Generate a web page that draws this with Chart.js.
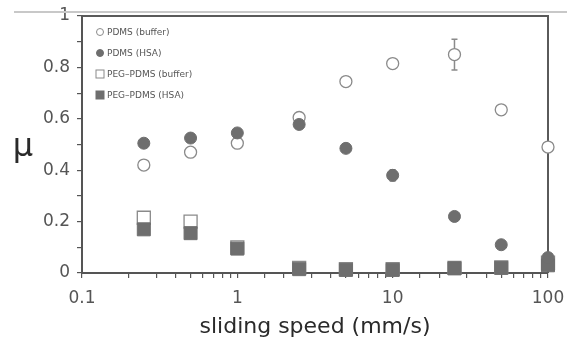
<!DOCTYPE html>
<html>
<head>
<meta charset="utf-8">
<script src="https://cdn.jsdelivr.net/npm/chart.js@4/dist/chart.umd.min.js"></script>
<style>
  html, body { margin: 0; padding: 0; background: #fff; }
  #wrap { width: 567px; height: 343px; }
</style>
</head>
<body>
<div id="wrap"><canvas id="chartMu" width="567" height="343"></canvas></div>
<script>
// sliding speeds (mm/s)
var speeds = [0.25, 0.5, 1, 2.5, 5, 10, 25, 50, 100];

// friction coefficient per series
var pdmsBuffer = [0.42, 0.47, 0.505, 0.605, 0.745, 0.815, 0.85, 0.635, 0.49];
var pdmsHSA = [0.505, 0.525, 0.545, 0.578, 0.485, 0.38, 0.22, 0.11, 0.06];
var pegBuffer = [0.215, 0.20, 0.10, 0.02, 0.015, 0.015, 0.02, 0.022, 0.04];
var pegHSA = [0.17, 0.155, 0.095, 0.015, 0.012, 0.012, 0.018, 0.02, 0.03];

// error bars (half width), 0 = none drawn
var pdmsBufferErr = [0, 0, 0, 0, 0, 0, 0.06, 0, 0];
var pdmsHSAErr = [0, 0, 0, 0, 0, 0.022, 0, 0, 0];

var seriesNames = ['PDMS (buffer)', 'PDMS (HSA)', 'PEG\u2013PDMS (buffer)', 'PEG\u2013PDMS (HSA)'];
var yTicks = [0, 0.2, 0.4, 0.6, 0.8, 1];

var ctx = document.getElementById('chartMu').getContext('2d');

function toPoints(vals) {
    return speeds.map(function (s, i) { return { x: s, y: vals[i] }; });
}

var gray = '#6e6e6e';
var lineGray = '#8a8a8a';

// error bars, top/right frame, legend, and axis labels
var decor = {
    id: 'decor',
    beforeDraw: function (chart) {
        // top and right frame, under the points
        var c = chart.ctx;
        var a = chart.chartArea;
        c.save();
        c.strokeStyle = '#5a5a5a';
        c.lineWidth = 2;
        c.beginPath();
        c.moveTo(a.left, a.top); c.lineTo(a.right, a.top); c.lineTo(a.right, a.bottom);
        c.stroke();
        c.restore();
    },
    beforeDatasetsDraw: function (chart) {
        var c = chart.ctx;
        var xs = chart.scales.x, ys = chart.scales.y;
        c.save();
        c.strokeStyle = lineGray;
        c.lineWidth = 1.5;
        [[pdmsBuffer, pdmsBufferErr], [pdmsHSA, pdmsHSAErr]].forEach(function (pair) {
            speeds.forEach(function (s, i) {
                var e = pair[1][i];
                if (!e) return;
                var px = xs.getPixelForValue(s);
                var y1 = ys.getPixelForValue(pair[0][i] + e);
                var y2 = ys.getPixelForValue(pair[0][i] - e);
                c.beginPath();
                c.moveTo(px, y1); c.lineTo(px, y2);
                c.moveTo(px - 3, y1); c.lineTo(px + 3, y1);
                c.moveTo(px - 3, y2); c.lineTo(px + 3, y2);
                c.stroke();
            });
        });
        c.restore();
    },
    afterDraw: function (chart) {
        var c = chart.ctx;
        c.save();
        // faint line along the top of the figure
        c.strokeStyle = '#c8c8c8';
        c.lineWidth = 2;
        c.beginPath();
        c.moveTo(14, 12); c.lineTo(567, 12);
        c.stroke();

        // legend
        c.font = '9px "DejaVu Sans"';
        c.textBaseline = 'middle';
        c.textAlign = 'left';
        var lx = 100, ly = 32, step = 21;
        seriesNames.forEach(function (name, i) {
            var y = ly + i * step;
            c.lineWidth = 1;
            if (i < 2) {
                c.beginPath();
                c.arc(lx, y, 3.5, 0, Math.PI * 2);
                c.fillStyle = i === 0 ? '#fff' : gray;
                c.fill();
                c.strokeStyle = i === 0 ? lineGray : gray;
                c.stroke();
            } else {
                c.fillStyle = i === 2 ? '#fff' : gray;
                c.fillRect(lx - 4, y - 4, 8, 8);
                c.strokeStyle = i === 2 ? lineGray : gray;
                c.strokeRect(lx - 4, y - 4, 8, 8);
            }
            c.fillStyle = '#555';
            c.fillText(name, lx + 7, y + 0.5);
        });

        // axis titles
        c.fillStyle = '#2a2a2a';
        c.font = '22px "DejaVu Sans"';
        c.textAlign = 'center';
        c.fillText('sliding speed (mm/s)', 315, 327);
        c.font = '32px "DejaVu Sans"';
        c.fillText('\u03bc', 23, 148);
        c.restore();
    }
};

var myChart = new Chart(ctx, {
    type: 'scatter',
    data: {
        datasets: [
            {
                label: seriesNames[0],
                data: toPoints(pdmsBuffer),
                pointStyle: 'circle',
                pointRadius: 6,
                backgroundColor: '#fff',
                borderColor: lineGray,
                borderWidth: 1.3,
                clip: false,
                order: 1
            },
            {
                label: seriesNames[1],
                data: toPoints(pdmsHSA),
                pointStyle: 'circle',
                pointRadius: 6,
                backgroundColor: gray,
                borderColor: gray,
                borderWidth: 1,
                clip: false,
                order: 0
            },
            {
                label: seriesNames[2],
                data: toPoints(pegBuffer),
                pointStyle: 'rect',
                pointRadius: 9.2,
                backgroundColor: '#fff',
                borderColor: lineGray,
                borderWidth: 1.3,
                clip: false,
                order: 1
            },
            {
                label: seriesNames[3],
                data: toPoints(pegHSA),
                pointStyle: 'rect',
                pointRadius: 9.2,
                backgroundColor: gray,
                borderColor: gray,
                borderWidth: 1,
                clip: false,
                order: 0
            }
        ]
    },
    options: {
        responsive: false,
        animation: false,
        events: [],
        layout: { padding: { left: 0, right: 19, top: 16, bottom: 0 } },
        plugins: { legend: { display: false }, tooltip: { enabled: false } },
        scales: {
            x: {
                type: 'logarithmic',
                min: 0.1,
                max: 100,
                afterFit: function (scale) {
                    scale.height = 70;
                    scale.paddingLeft = 0;
                    scale.paddingRight = 0;
                },
                border: { display: true, color: '#555', width: 2 },
                grid: { drawOnChartArea: false, drawTicks: true, tickLength: 5, color: '#555', lineWidth: 1.2 },
                ticks: {
                    autoSkip: false,
                    maxRotation: 0,
                    padding: 10,
                    color: '#555',
                    font: { family: 'DejaVu Sans', size: 17 },
                    callback: function (v) {
                        var l = Math.log10(v);
                        if (Math.abs(l - Math.round(l)) < 1e-6) return String(v);
                        return '';
                    }
                }
            },
            y: {
                min: 0,
                max: 1,
                afterFit: function (scale) {
                    scale.width = 82;
                    scale.paddingTop = 0;
                    scale.paddingBottom = 0;
                },
                border: { display: true, color: '#555', width: 2 },
                grid: { drawOnChartArea: false, drawTicks: true, tickLength: 5, color: '#555', lineWidth: 1.2 },
                ticks: {
                    stepSize: 0.1,
                    padding: 7,
                    color: '#555',
                    font: { family: 'DejaVu Sans', size: 17 },
                    callback: function (v) {
                        var k = Math.round(v * 10);
                        if (k % 2 !== 0) return '';
                        var t = yTicks[k / 2];
                        return t === 0 ? '0' : t === 1 ? '1' : t.toFixed(1);
                    }
                }
            }
        }
    },
    plugins: [decor]
});
</script>
</body>
</html>
